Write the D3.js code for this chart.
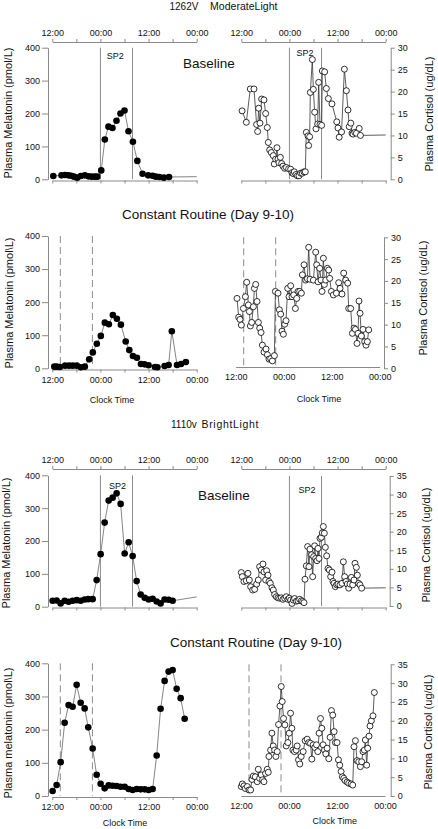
<!DOCTYPE html>
<html><head><meta charset="utf-8">
<script src="https://cdn.jsdelivr.net/npm/d3@7"></script>
<style>
body{margin:0;background:#fff;}
svg{display:block;}
text{font-family:'Liberation Sans',Arial,Helvetica,sans-serif;fill:#111;}
</style>
</head><body><svg id="c" width="438" height="829"></svg>
<script>
// ---------- labels / ticks ----------
const clockTicks = ["12:00", "00:00", "12:00", "00:00"];   // at 0,12,24,36 h after first 12:00
const melTicks = [0, 100, 200, 300, 400];
const cortTicks30 = [0, 5, 10, 15, 20, 25, 30];
const cortTicks35 = [0, 5, 10, 15, 20, 25, 30, 35];
const sleepPeriod = [12, 20];      // SP2: 00:00 - 08:00
const crMarkers = [2, 10];         // 14:00 and 22:00

// ---------- data: [hours after 12:00, value] ----------
const mel1262Base = [[0.25,10],[2.3,12],[3.2,13],[4.0,12],[4.7,11],[5.4,8],[6.2,5],[7.1,10],[8.1,12],[9.0,9],[9.8,8],[10.6,8],[11.2,8],
  [12.2,27],[13.1,121],[14.0,160],[15.0,156],[16.0,178],[17.0,200],[18.0,209],[19.0,146],[20.1,114],[21.2,56],[22.5,17],
  [23.9,12],[25.0,11],[25.8,8],[26.7,7],[27.8,5],[29.1,7]];
const mel1262BaseTail = [36, 8];

const cort1262Base = [[0.2,15.6],[1.25,13.0],[2.24,20.6],[3.16,20.6],[3.82,12.5],[4.07,10.9],[4.32,16.2],[4.66,12.8],[5.07,18.3],[5.65,18.1],
  [6.07,15.0],[6.48,11.8],[6.73,8.4],[7.07,6.7],[7.48,6.1],[7.98,5.4],[8.23,3.5],[8.56,4.6],[8.89,7.2],[9.14,4.6],[9.39,3.8],[9.73,5.0],
  [10.06,3.6],[10.39,3.0],[10.81,2.5],[11.22,2.7],[11.8,2.4],[12.3,2.3],[12.63,1.5],[12.97,1.3],[13.22,1.7],[13.63,1.1],[13.97,0.8],
  [14.38,0.8],[14.8,1.4],[15.21,1.4],[15.63,1.7],[15.96,1.7],[16.21,10.7],[16.63,9.9],[16.79,7.7],[17.04,9.7],[17.21,19.8],[17.71,27.3],
  [17.96,20.5],[18.29,15.3],[18.62,11.5],[19.04,12.6],[19.29,22.1],[19.62,12.5],[20.03,12.3],[20.2,24.7],[20.78,24.5],[21.2,20.7],
  [21.7,18.4],[22.6,17.2],[23.8,13.1],[24.1,11.7],[24.4,9.6],[25.0,10.8],[25.7,25.1],[26.2,20.2],[26.6,15.8],[26.9,12.0],[27.3,12.8],
  [27.6,10.5],[27.85,10.3],[28.3,10.7],[28.7,10.5],[29.4,11.6],[29.7,10.0]];
const cort1262BaseTail = [36, 10.1];

const mel1262CR = [[0.5,5],[1.1,5],[1.9,4],[3.2,8],[4.2,8],[5.1,8],[6.1,8],[7.1,3],[8.1,5],[9.2,27],[10.1,48],[11.1,74],[12.1,98],
  [13.1,138],[14.1,133],[15.1,161],[16.1,150],[17.1,132],[18.3,81],[19.2,55],[20.1,37],[21.1,32],[22.1,13],[23.0,12],[24.0,9],
  [25.6,4],[26.2,3],[28.0,7],[29.0,10],[29.8,112],[31.1,10],[32.1,13],[33.3,19]];

const cort1262CR = [[0.33,16.0],[0.75,11.7],[1.08,11.2],[1.42,9.9],[1.92,13.7],[2.42,16.4],[2.75,19.7],[3.17,14.5],[3.42,13.0],[3.67,9.7],
  [4.0,10.5],[4.42,14.1],[4.67,18.3],[5.0,19.2],[5.33,15.3],[5.67,10.5],[6.0,9.2],[6.33,8.2],[6.67,5.3],[7.08,3.7],[7.58,4.4],[7.92,3.1],
  [8.33,2.1],[8.75,2.2],[9.17,1.7],[9.67,2.9],[9.92,17.6],[10.58,17.2],[10.92,13.4],[11.25,12.4],[11.58,8.5],[11.92,7.8],[12.25,10.1],
  [12.58,10.9],[13.0,18.3],[13.33,16.4],[13.75,18.9],[14.08,16.4],[14.5,16.8],[14.92,13.7],[15.25,16.0],[15.58,17.6],[16.0,17.6],
  [16.42,17.2],[16.67,21.4],[17.08,23.7],[17.5,20.2],[17.92,20.5],[18.25,27.7],[18.58,20.4],[19.42,20.2],[20.0,26.6],[20.25,23.7],
  [20.58,19.8],[21.0,22.9],[21.33,20.2],[21.58,17.6],[21.92,25.2],[22.17,19.2],[22.5,20.2],[22.92,22.9],[23.25,22.5],[23.5,20.6],
  [23.92,17.6],[24.42,16.8],[25.17,17.2],[25.75,19.6],[26.08,18.3],[26.58,17.0],[27.0,21.8],[27.5,20.2],[28.0,19.5],[28.25,13.7],
  [28.75,13.7],[29.17,8.0],[29.58,9.2],[29.92,8.9],[30.33,5.7],[30.58,8.0],[30.83,15.4],[31.08,12.6],[31.42,7.4],[31.83,8.9],
  [32.25,6.1],[32.58,5.3],[32.92,6.1],[33.25,8.8]];

const mel1110Base = [[0.08,18],[1.08,19],[2.08,10],[3.08,18],[4.07,15],[5.07,18],[6.07,20],[7.07,18],[8.06,22],[8.96,23],[10.06,23],
  [11.06,81],[12.05,160],[13.05,256],[14.05,323],[15.05,332],[16.04,345],[17.04,313],[18.04,162],[19.04,196],[20.03,154],[21.03,78],
  [22.03,37],[23.03,27],[24.02,22],[25.02,24],[26.02,16],[27.0,10],[28.0,22],[29.0,21],[30.0,18]];
const mel1110BaseTail = [36, 30];

const cort1110Base = [[0,9.0],[0.25,7.9],[0.67,6.6],[1.25,6.8],[1.66,8.8],[2.0,7.0],[2.33,5.2],[2.83,4.3],[3.33,4.5],[3.82,5.9],[4.24,7.0],
  [4.57,10.6],[4.99,9.7],[5.4,11.3],[5.65,9.2],[6.07,7.0],[6.32,9.5],[6.65,8.3],[6.9,6.6],[7.23,6.1],[7.65,4.9],[7.98,4.3],[8.31,3.1],
  [8.73,2.5],[9.14,2.2],[9.56,2.1],[9.98,2.2],[10.39,1.8],[10.81,2.1],[11.22,2.5],[11.64,1.8],[11.97,2.1],[12.3,1.6],[12.64,0.7],
  [12.97,1.6],[13.3,2.0],[13.72,1.3],[14.13,1.4],[14.55,1.8],[14.96,1.4],[15.3,1.2],[15.63,0.9],[15.88,7.2],[16.21,10.8],[16.54,16.0],
  [16.87,10.6],[17.12,15.3],[17.54,13.8],[17.79,7.9],[18.04,13.3],[18.29,16.2],[18.54,12.8],[18.87,12.2],[19.12,15.5],[19.37,12.8],
  [19.62,18.2],[19.95,18.5],[20.2,19.7],[20.45,21.4],[20.7,19.6],[20.95,15.8],[21.28,13.5],[21.61,10.1],[21.95,9.7],[22.28,7.9],
  [22.61,9.1],[22.86,6.6],[23.11,6.1],[23.44,5.2],[23.77,5.7],[24.1,5.9],[24.6,5.7],[25.1,6.1],[25.44,11.9],[25.77,7.9],[26.1,6.6],
  [26.43,5.9],[26.77,4.8],[27.1,5.9],[27.43,7.7],[27.76,5.7],[28.1,7.0],[28.35,11.5],[28.68,10.4],[28.93,8.3],[29.26,6.1],[29.59,5.7],
  [30.01,4.8]];
const cort1110BaseTail = [36, 4.9];

const mel1110CR = [[0.08,15],[1.08,33],[2.08,102],[3.08,221],[4.07,274],[5.07,269],[6.07,335],[7.07,281],[8.06,264],[8.96,207],
  [10.06,143],[11.06,64],[12.05,37],[13.05,23],[14.05,32],[15.05,31],[16.04,30],[17.04,28],[18.04,28],[19.04,21],[20.03,18],
  [21.03,21],[22.03,20],[23.03,20],[24.02,18],[25.02,21],[26.02,122],[27.0,263],[28.0,347],[29.0,375],[30.0,380],[31.0,323],
  [32.0,295],[33.0,233]];

const cort1110CR = [[0.08,2.5],[0.33,3.2],[0.75,2.7],[1.08,2.0],[1.58,2.5],[2.0,1.6],[2.41,1.6],[2.74,4.4],[3.08,5.3],[3.57,5.1],
  [4.07,3.8],[4.32,7.1],[4.66,4.7],[5.07,5.6],[5.4,4.3],[5.74,3.8],[6.15,6.0],[6.57,7.1],[6.82,6.3],[6.98,10.5],[7.4,12.2],[7.73,16.7],
  [8.06,13.3],[8.4,12.2],[8.73,10.5],[9.06,11.8],[9.39,19.0],[9.73,23.9],[10.06,29.1],[10.31,25.1],[10.64,20.6],[10.97,18.9],
  [11.3,13.3],[11.72,14.2],[12.05,16.7],[12.39,22.0],[12.72,18.0],[12.97,12.2],[13.38,11.8],[13.8,12.2],[14.05,13.3],[14.38,9.6],
  [14.71,8.5],[15.05,10.5],[15.54,11.8],[16.04,14.7],[16.54,15.1],[16.96,14.2],[17.37,14.0],[17.71,9.8],[18.04,13.6],[18.45,12.9],
  [18.87,13.6],[19.2,11.8],[19.53,16.7],[19.87,20.6],[20.2,18.0],[20.53,13.6],[20.86,12.2],[21.2,11.2],[21.53,12.7],[21.95,9.9],
  [22.28,15.6],[22.61,22.7],[22.94,21.5],[23.28,17.1],[23.61,14.2],[24.02,14.2],[24.36,9.6],[24.69,8.2],[25.02,6.5],[25.35,5.1],
  [25.69,4.7],[26.02,4.1],[26.52,3.7],[26.93,3.4],[27.51,3.2],[27.93,2.9],[28.26,13.1],[28.6,14.7],[29.01,9.4],[29.43,9.1],
  [29.84,7.8],[30.17,9.1],[30.51,11.8],[30.84,12.2],[31.09,14.9],[31.42,8.2],[31.67,12.7],[32.0,15.9],[32.25,18.6],[32.59,20.0],
  [33.0,21.3],[33.33,27.5]];

// ---------- drawing ----------
const svg = d3.select("#c");
const AX = "#8a8a8a";

function styleAxis(sel){
  sel.selectAll("path.domain").attr("stroke", AX).attr("stroke-width", 1);
  sel.selectAll(".tick line").attr("stroke", AX);
  sel.selectAll(".tick text").attr("font-size", 9).attr("fill", "#111")
     .attr("font-family", "'Liberation Sans',Arial,sans-serif");
}

function panel(p){
  const g = svg.append("g");
  const x = d3.scaleLinear().domain([0, 36]).range([p.x0, p.x1]);
  const y = d3.scaleLinear().domain([0, p.yMax]).range([p.yB, p.yT]);
  const hourTicks = [0, 6, 12, 18, 24, 30, 36];
  const fmt = d => d % 12 === 0 ? clockTicks[d / 12] : "";

  if (p.solid) p.solid.forEach(h => g.append("line")
      .attr("x1", x(h)).attr("x2", x(h)).attr("y1", p.yT).attr("y2", p.yB)
      .attr("stroke", "#8c8c8c").attr("stroke-width", 1));
  if (p.dashed) p.dashed.forEach(h => g.append("line")
      .attr("x1", x(h)).attr("x2", x(h)).attr("y1", p.yT).attr("y2", p.yB)
      .attr("stroke", "#8c8c8c").attr("stroke-width", 1).attr("stroke-dasharray", "7,4"));

  const yAx = (p.side === "left" ? d3.axisLeft(y).tickSize(6).tickPadding(2)
                                 : d3.axisRight(y).tickSize(4).tickPadding(3))
      .tickValues(p.yTicks).tickSizeOuter(0);
  g.append("g").attr("transform", `translate(${p.axisX},0)`).call(yAx).call(styleAxis);

  if (p.topY !== undefined){
    g.append("g").attr("transform", `translate(0,${p.topY})`)
     .call(d3.axisTop(x).tickValues(hourTicks).tickFormat(fmt).tickSize(3).tickPadding(3).tickSizeOuter(0))
     .call(styleAxis);
  }
  if (p.botY !== undefined){
    g.append("g").attr("transform", `translate(0,${p.botY})`)
     .call(d3.axisBottom(x).tickValues(hourTicks).tickFormat(p.botLabels ? fmt : () => "")
            .tickSize(p.noTicks ? 0 : 3).tickPadding(p.noTicks ? 7 : 4).tickSizeOuter(0))
     .call(styleAxis);
  }

  const pts = p.tail ? p.data.concat([p.tail]) : p.data;
  const line = d3.line().x(d => x(d[0])).y(d => y(d[1]));
  g.append("path").datum(pts).attr("d", line).attr("fill", "none")
   .attr("stroke", p.kind === "mel" ? "#777" : "#333").attr("stroke-width", p.kind === "mel" ? 0.9 : 0.8);
  g.selectAll("circle").data(p.data).join("circle")
   .attr("cx", d => x(d[0])).attr("cy", d => y(d[1]))
   .attr("r", p.kind === "mel" ? 3.3 : 3)
   .attr("fill", p.kind === "mel" ? "#000" : "#fff")
   .attr("stroke", "#000").attr("stroke-width", p.kind === "mel" ? 0 : 0.8);

  if (p.sp2) g.append("text").attr("x", p.sp2[0]).attr("y", p.sp2[1]).attr("text-anchor", "middle")
     .attr("font-size", 9).text("SP2");
}

function label(txt, x, y, size, rot, anchor, len){
  const t = svg.append("text").attr("font-size", size).attr("text-anchor", anchor || "middle").text(txt);
  if (rot) t.attr("transform", `translate(${x},${y}) rotate(-90)`).attr("dy", "0.35em");
  else t.attr("x", x).attr("y", y);
  if (len) t.attr("textLength", len).attr("lengthAdjust", "spacing");
  return t;
}

// Row 1: 1262V baseline
panel({kind:"mel", data:mel1262Base, tail:mel1262BaseTail, x0:52.3, x1:196.7, yT:47.7, yB:179.3, yMax:400, yTicks:melTicks,
  side:"left", axisX:48, topY:42, botY:180.5, solid:sleepPeriod, sp2:[115.3, 58.5]});
panel({kind:"cort", data:cort1262Base, tail:cort1262BaseTail, x0:241.3, x1:385.7, yT:47.7, yB:179.3, yMax:30, yTicks:cortTicks30,
  side:"right", axisX:390.7, topY:42, botY:180.5, solid:sleepPeriod, sp2:[305, 55.5]});

// Row 2: 1262V constant routine
panel({kind:"mel", data:mel1262CR, x0:52.3, x1:196.7, yT:236, yB:368.3, yMax:400, yTicks:melTicks,
  side:"left", axisX:48, botY:369.5, botLabels:true, dashed:crMarkers});
panel({kind:"cort", data:cort1262CR, x0:235.7, x1:379.7, yT:237.3, yB:368.3, yMax:30, yTicks:cortTicks30,
  side:"right", axisX:384, botY:367, botLabels:true, noTicks:true, dashed:crMarkers});

// Row 3: 1110v baseline
panel({kind:"mel", data:mel1110Base, tail:mel1110BaseTail, x0:52.3, x1:196.7, yT:475.3, yB:606.7, yMax:400, yTicks:melTicks,
  side:"left", axisX:48, topY:469, botY:607.5, solid:sleepPeriod, sp2:[117.5, 489.3]});
panel({kind:"cort", data:cort1110Base, tail:cort1110BaseTail, x0:241.3, x1:385.7, yT:476, yB:606, yMax:35, yTicks:cortTicks35,
  side:"right", axisX:389.7, topY:469, botY:607.5, solid:sleepPeriod, sp2:[307, 493.3]});

// Row 4: 1110v constant routine
panel({kind:"mel", data:mel1110CR, x0:52.3, x1:196.7, yT:663.3, yB:796, yMax:400, yTicks:melTicks,
  side:"left", axisX:48, botY:797, botLabels:true, dashed:crMarkers});
panel({kind:"cort", data:cort1110CR, x0:241, x1:385, yT:664.3, yB:796, yMax:35, yTicks:cortTicks35,
  side:"right", axisX:390.7, botY:796, botLabels:true, noTicks:true, dashed:crMarkers});

// ---------- text ----------
label("1262V", 169.5, 9.8, 10, false, "start");
label("ModerateLight", 210, 9.8, 10.5, false, "start", 67.5);
label("1110v", 171, 427.8, 10, false, "start");
label("BrightLight", 201.5, 427.8, 10.5, false, "start", 57);

label("Baseline", 183, 68, 13.5, false, "start");
label("Baseline", 198, 500, 13.5, false, "start");
label("Constant Routine (Day 9-10)", 208, 219, 13.5, false, "middle");
label("Constant Routine (Day 9-10)", 256, 647, 13.5, false, "middle");

label("Clock Time", 112, 403, 9, false, "middle");
label("Clock Time", 319, 402, 9, false, "middle");
label("Clock Time", 125, 825.5, 9, false, "middle");
label("Clock Time", 334.7, 824, 9, false, "middle");

label("Plasma Melatonin (pmol/L)", 8, 113, 11, true);
label("Plasma Melatonin (pmol\\L)", 9.3, 303, 11, true);
label("Plasma Melatonin (pmol/L)", 6, 543, 11, true);
label("Plasma melatonin (pmol\\L)", 8.3, 733, 11, true);

label("Plasma Cortisol (ug/dL)", 428.7, 114, 11, true);
label("Plasma Cortisol (ug/dL)", 423, 298, 11, true);
label("Plasma Cortisol (ug/dL)", 426.3, 545, 11, true);
label("Plasma Cortisol (ug/dL)", 428, 732, 11, true);
</script>
</body></html>
